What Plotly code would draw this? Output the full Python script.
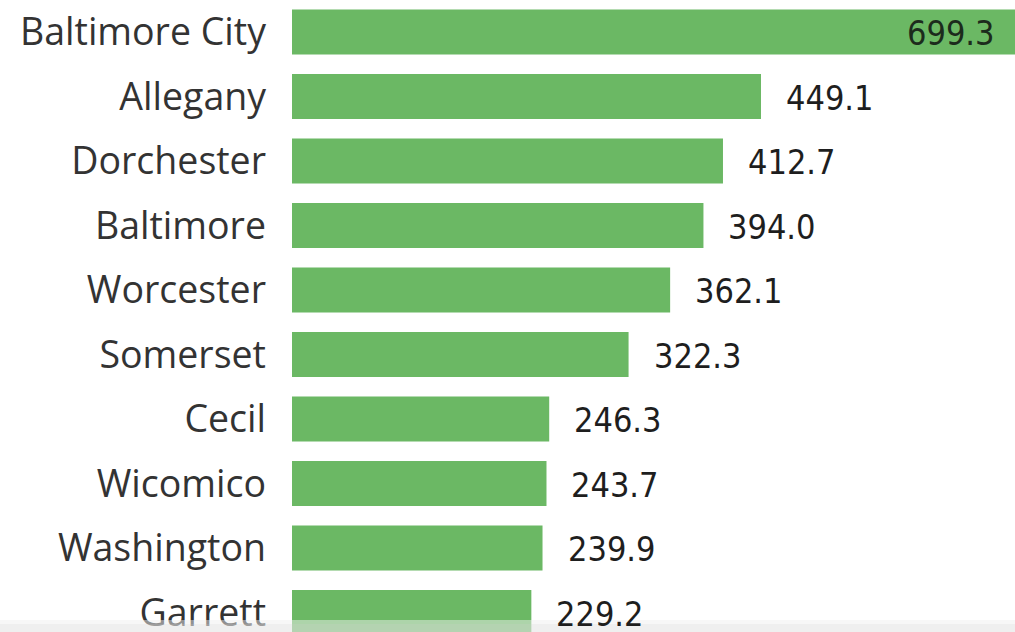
import plotly.graph_objects as go

counties = ["Baltimore City", "Allegany", "Dorchester", "Baltimore", "Worcester",
            "Somerset", "Cecil", "Wicomico", "Washington", "Garrett"]
rates = [699.3, 449.1, 412.7, 394.0, 362.1, 322.3, 246.3, 243.7, 239.9, 229.2]
labels = [f"{v:.1f}" for v in rates]

BAR = "#6BB864"
NUMFONT = "DejaVu Sans Condensed, Roboto, sans-serif"

fig = go.Figure(go.Bar(
    x=rates, y=counties, orientation="h",
    marker=dict(color=BAR, line=dict(width=0)),
    width=0.70, hoverinfo="skip",
))

for i, (c, v, t) in enumerate(zip(counties, rates, labels)):
    if i == 0:
        fig.add_annotation(x=v, y=c, text=t, xref="x", yref="y", showarrow=False,
                           xanchor="right", xshift=-25, yshift=-1,
                           font=dict(family=NUMFONT, size=34, color="#1c2b1c"))
    else:
        fig.add_annotation(x=v, y=c, text=t, xref="x", yref="y", showarrow=False,
                           xanchor="left", xshift=23, yshift=-1,
                           font=dict(family=NUMFONT, size=34, color="#1e1e1e"))

# faint, semi-transparent bottom band
fig.add_shape(type="rect", xref="paper", yref="paper", x0=-1, x1=1.1, y0=-0.01, y1=0.0127,
              fillcolor="#e4e4e4", opacity=0.6, line=dict(width=0), layer="above")
fig.add_shape(type="rect", xref="paper", yref="paper", x0=-1, x1=1.1, y0=0.0127, y1=0.019,
              fillcolor="#f0f0f0", opacity=0.5, line=dict(width=0), layer="above")

fig.update_layout(
    width=1023, height=632,
    margin=dict(l=292, r=0, t=0, b=0, autoexpand=False),
    paper_bgcolor="white", plot_bgcolor="white",
    showlegend=False,
    xaxis=dict(range=[0, 700], visible=False, fixedrange=True, automargin=False),
    yaxis=dict(type="category", range=[9.302, -0.496], showgrid=False, zeroline=False,
               showline=False, ticks="", ticklabelstandoff=25, automargin=False,
               tickfont=dict(family="Open Sans, Noto Sans, sans-serif", size=37.5, color="#333333")),
)

fig.write_html("out.html", config={"displayModeBar": False},
               post_script="document.body.style.margin='0';document.body.style.overflow='hidden';")
